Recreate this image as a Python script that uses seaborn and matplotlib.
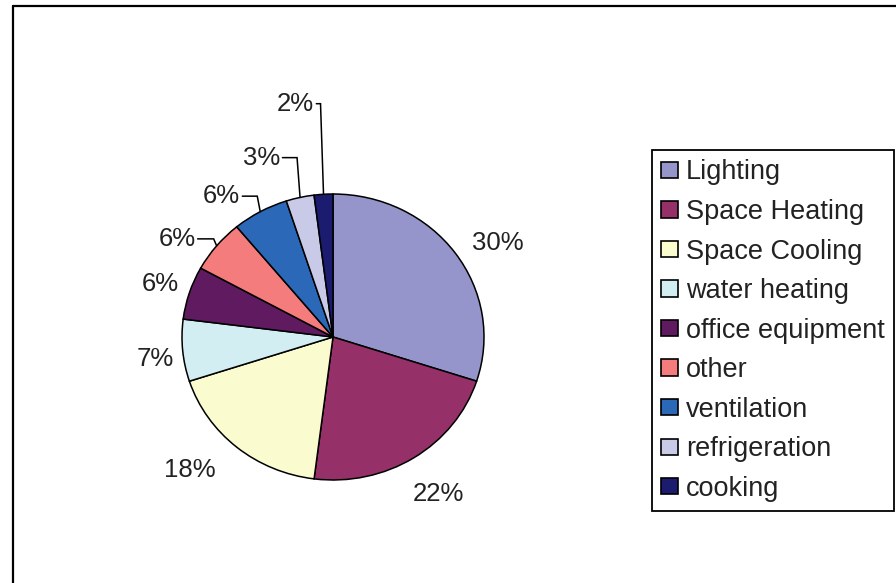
import matplotlib
matplotlib.use("Agg")
import matplotlib.pyplot as plt
from matplotlib.patches import Patch
from matplotlib.lines import Line2D
import numpy as np
import seaborn as sns

# ---- data ----
categories = ["Lighting", "Space Heating", "Space Cooling", "water heating",
              "office equipment", "other", "ventilation", "refrigeration", "cooking"]
shares = [30, 22, 18, 7, 6, 6, 6, 3, 2]
pct_labels = ["30%", "22%", "18%", "7%", "6%", "6%", "6%", "3%", "2%"]
slice_colors = ["#9595cb", "#953068", "#fbfbd0", "#d3eef3", "#5f1a60",
                "#f47c7c", "#2b69b8", "#c9c9e8", "#1b1b70"]

# ---- layout (not data) ----
label_r = [1.27, 1.30, 1.33, 1.19, 1.20, 1.24, 1.23, 1.34, 1.65]
label_dang = [-5, 0, -6, 2, 0, 6, 8, 8, 5]
has_leader = [False, False, False, False, False, True, True, True, True]

sns.set_theme(style="white")
plt.rcParams['font.family'] = ['Liberation Sans', 'DejaVu Sans']

W, H = 896, 583
fig = plt.figure(figsize=(W / 100, H / 100), dpi=100)
fig.patch.set_facecolor("white")

cx, cy, rx, ry = 333, 337, 151, 143
lim = 1.8
ax = fig.add_axes([(cx - lim * rx) / W, (H - cy - lim * ry) / H,
                   2 * lim * rx / W, 2 * lim * ry / H])

palette = sns.color_palette(slice_colors)
wedges, _ = ax.pie(shares, colors=palette, startangle=90, counterclock=False,
                   radius=1.0,
                   wedgeprops=dict(edgecolor="black", linewidth=1.1))
ax.set_aspect("auto")
ax.set_xlim(-lim, lim)
ax.set_ylim(-lim, lim)
ax.axis("off")

texts = []
for w, lab, r, da in zip(wedges, pct_labels, label_r, label_dang):
    mid = 0.5 * (w.theta1 + w.theta2)
    a = np.deg2rad(mid + da)
    t = ax.text(r * np.cos(a), r * np.sin(a), lab, ha="center", va="center",
                fontsize=18.5, color="#222222")
    texts.append((t, mid))

fig.canvas.draw()
inv = ax.transData.inverted()
for (t, mid), lead in zip(texts, has_leader):
    if not lead:
        continue
    bb = t.get_window_extent()
    x0, y0 = inv.transform((bb.x1 + 2, (bb.y0 + bb.y1) / 2))
    a = np.deg2rad(mid)
    ex, ey = np.cos(a), np.sin(a)
    xk = ex - 3 / rx
    ax.plot([x0, xk, ex], [y0, y0, ey], color="black", lw=1.1,
            solid_joinstyle="miter")

handles = [Patch(facecolor=c, edgecolor="black", linewidth=1.2) for c in slice_colors]
leg = fig.legend(handles, categories, loc="upper left",
                 bbox_to_anchor=(652 / W, 1 - 150 / H), borderaxespad=0,
                 frameon=True, fancybox=False, framealpha=1, edgecolor="black",
                 fontsize=19.5, borderpad=0.35, handlelength=0.6, handleheight=0.55,
                 handletextpad=0.3, labelspacing=0.5)
leg.get_frame().set_linewidth(1.3)
for txt in leg.get_texts():
    txt.set_color("#222222")

# outer frame (top and left edges visible)
fig.add_artist(Line2D([13 / W, 13 / W], [0, 1 - 6 / H], color="black", lw=1.6))
fig.add_artist(Line2D([13 / W, 1], [1 - 6 / H, 1 - 6 / H], color="black", lw=1.6))

fig.savefig("out.png", dpi=100, facecolor="white")
